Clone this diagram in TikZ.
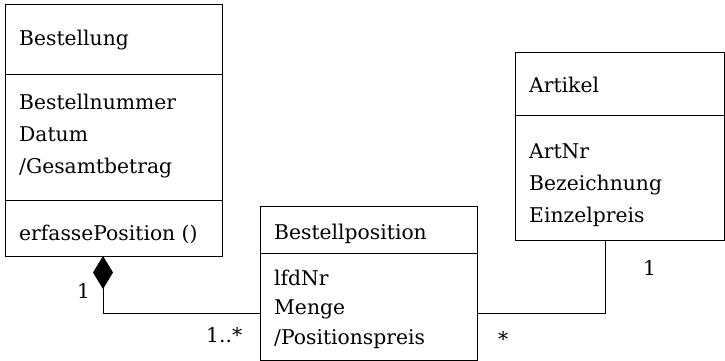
\documentclass[tikz,border=0pt]{standalone}
\usepackage{fontspec}
\setmainfont{DejaVu Serif}
\usetikzlibrary{arrows.meta}
\tikzset{
  cls/.style={draw, line width=0.9pt, rectangle, inner sep=0pt, anchor=north west},
  sep/.style={line width=0.9pt},
  txt/.style={inner sep=0pt, anchor=base west, font=\fontsize{20.3}{24}\selectfont},
  conn/.style={line width=0.9pt},
  comp/.style={{Diamond[length=33pt,width=20pt,fill=black]}-}
}
\begin{document}
\begin{tikzpicture}[x=1pt,y=-1pt]
\useasboundingbox (0,0) rectangle (725,361);
% Bestellung
\node[cls, minimum width=217.5pt, minimum height=252pt] (best) at (4.5,4) {};
\draw[sep] (4.5,74) -- (222,74);
\draw[sep] (4.5,200) -- (222,200);
\node[txt] (bname) at (19,46) {Bestellung};
\node[txt] (ba1) at (19,109) {Bestellnummer};
\node[txt] (ba2) at (19,141) {Datum};
\node[txt] (ba3) at (19,173) {/Gesamtbetrag};
\node[txt] (bm1) at (19,240) {erfassePosition ()};
% Bestellposition
\node[cls, minimum width=217pt, minimum height=154pt] (pos) at (260,206) {};
\draw[sep] (260,253) -- (477,253);
\node[txt] (pname) at (274,239.5) {Bestellposition};
\node[txt] (pa1) at (274,285) {lfdNr};
\node[txt] (pa2) at (274,314) {Menge};
\node[txt] (pa3) at (274,344.5) {/Positionspreis};
% Artikel
\node[cls, minimum width=208.5pt, minimum height=188pt] (art) at (515,52) {};
\draw[sep] (515,115) -- (723.5,115);
\node[txt] (aname) at (529,92.5) {Artikel};
\node[txt] (aa1) at (529,158) {ArtNr};
\node[txt] (aa2) at (529,190) {Bezeichnung};
\node[txt] (aa3) at (529,222) {Einzelpreis};
% connectors
\coordinate (d1) at (103,256);
\coordinate (d2) at (260,313.5);
\draw[conn, comp] (d1) |- (d2);
\coordinate (e1) at (605,240);
\coordinate (e2) at (477,313.5);
\draw[conn] (e1) |- (e2);
% multiplicities
\node[txt] (m1) at (77,298) {1};
\node[txt] (m2) at (206,342) {1..*};
\node[txt] (m3) at (498,346) {*};
\node[txt] (m4) at (643,275) {1};
\end{tikzpicture}
\end{document}
